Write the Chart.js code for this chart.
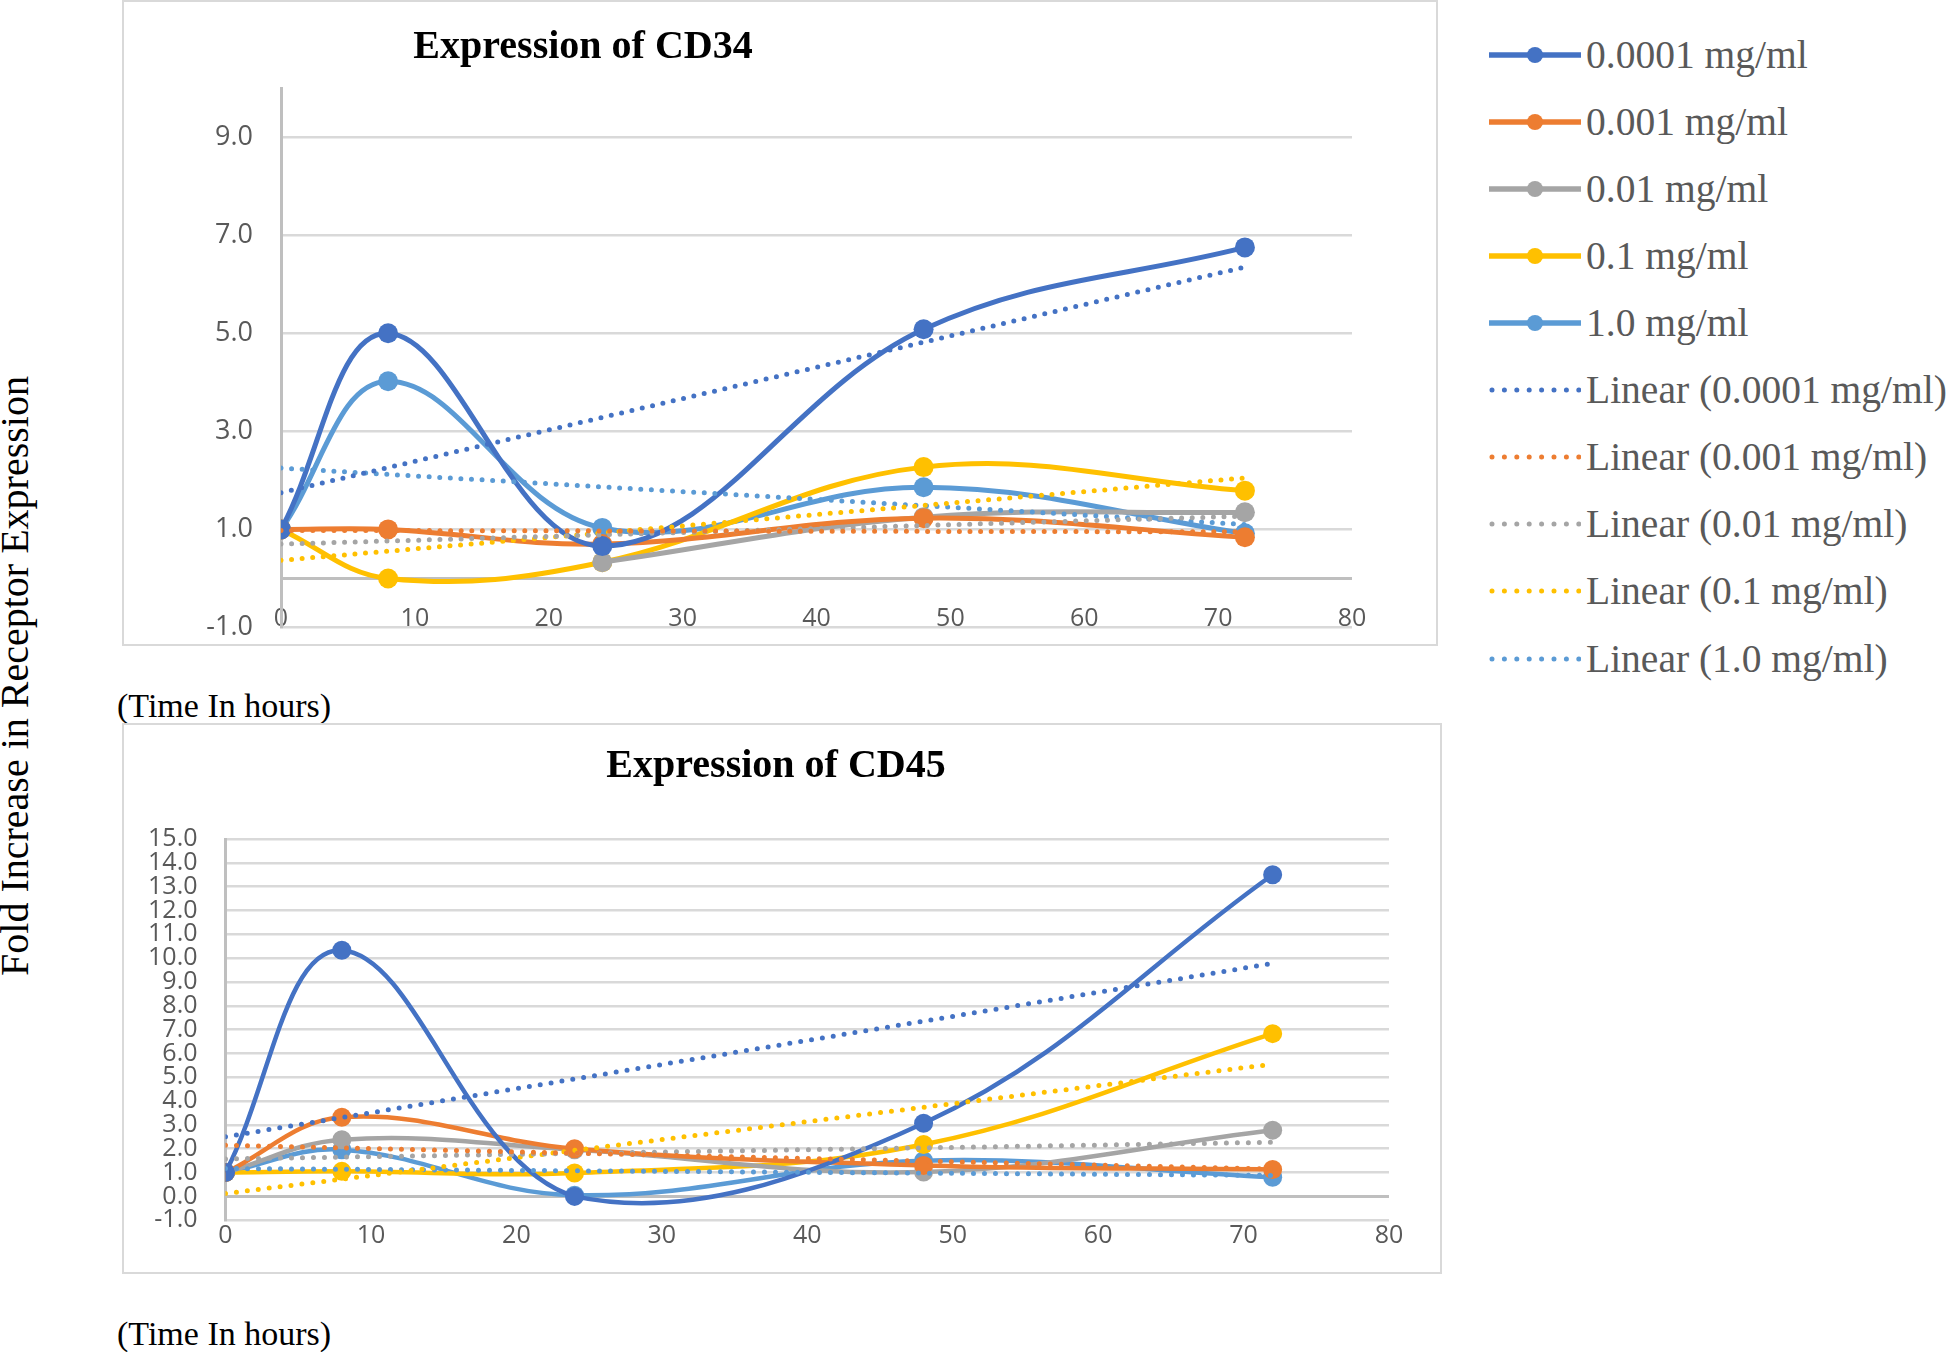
<!DOCTYPE html>
<html>
<head>
<meta charset="utf-8">
<title>Expression of CD34 and CD45</title>
<script src="https://cdn.jsdelivr.net/npm/chart.js@4.4.0/dist/chart.umd.min.js"></script>
<style>
    html, body { margin: 0; padding: 0; background: #fff; }
    #page { position: relative; width: 1946px; height: 1352px; overflow: hidden; background: #fff; }
    .box { position: absolute; border: 2px solid #d9d9d9; box-sizing: border-box; }
    .plot { position: absolute; }
    .title { position: absolute; font: bold 40px "Liberation Serif", "Times New Roman", serif; line-height: 40px; color: #000; white-space: nowrap; transform: translateX(-50%); }
    .xname { position: absolute; left: 117px; font: 34px "Liberation Serif", "Times New Roman", serif; line-height: 34px; color: #000; white-space: nowrap; }
    #ytitle { position: absolute; left: 15px; top: 676px; font: 40px "Liberation Serif", "Times New Roman", serif; line-height: 40px; color: #000; white-space: nowrap; transform: translate(-50%, -50%) rotate(-90deg); }
    #legend { position: absolute; left: 1489px; top: 0; }
    .item { position: absolute; left: 0; height: 50px; display: flex; align-items: center; white-space: nowrap; }
    .item span { font: 39.5px "Liberation Serif", "Times New Roman", serif; color: #595959; margin-left: 5px; }
</style>
</head>
<body>
<div id="page">
    <div class="box" style="left:122px; top:0px; width:1316px; height:646px;"></div>
    <canvas id="cd34Chart" class="plot" width="1316" height="646" style="left:122px; top:0px;"></canvas>
    <div class="title" style="left:583px; top:25px;">Expression of CD34</div>
    <div class="xname" style="top:689px;">(Time In hours)</div>

    <div class="box" style="left:122px; top:723px; width:1320px; height:551px;"></div>
    <canvas id="cd45Chart" class="plot" width="1320" height="551" style="left:122px; top:723px;"></canvas>
    <div class="title" style="left:776px; top:744px;">Expression of CD45</div>
    <div class="xname" style="top:1317px;">(Time In hours)</div>

    <div id="ytitle">Fold Increase in Receptor Expression</div>
    <div id="legend"></div>
</div>

<script>
// Sampling times (hours)
const hours = [0, 8, 24, 48, 72];
const trendHours = [0, 72];

const seriesNames = ['0.0001 mg/ml', '0.001 mg/ml', '0.01 mg/ml', '0.1 mg/ml', '1.0 mg/ml'];
const seriesColors = ['#4472c4', '#ed7d31', '#a5a5a5', '#ffc000', '#5b9bd5'];

// CD34 fold increase
const cd34_00001 = [1.0, 5.0, 0.66, 5.08, 6.75];
const cd34_0001 = [1.0, 1.0, 0.70, 1.23, 0.84];
const cd34_001 = [1.0, null, 0.33, 1.25, 1.35];
const cd34_01 = [1.0, 0.0, 0.33, 2.27, 1.79];
const cd34_10 = [1.0, 4.02, 1.03, 1.86, 0.92];

// CD34 linear trendlines (value at 0 h and 72 h)
const cd34Trend_00001 = [1.75, 6.35];
const cd34Trend_0001 = [0.98, 0.95];
const cd34Trend_001 = [0.70, 1.27];
const cd34Trend_01 = [0.37, 2.05];
const cd34Trend_10 = [2.25, 1.10];

// CD45 fold increase
const cd45_00001 = [1.0, 10.33, 0.0, 3.07, 13.5];
const cd45_0001 = [1.0, 3.32, 2.0, 1.30, 1.13];
const cd45_001 = [1.0, 2.38, 1.96, 1.02, 2.78];
const cd45_01 = [1.0, 1.05, 0.98, 2.18, 6.83];
const cd45_10 = [1.0, 1.96, 0.05, 1.50, 0.80];

// CD45 linear trendlines (value at 0 h and 72 h)
const cd45Trend_00001 = [2.50, 9.78];
const cd45Trend_0001 = [2.15, 1.15];
const cd45Trend_001 = [1.57, 2.27];
const cd45Trend_01 = [0.12, 5.55];
const cd45Trend_10 = [1.17, 0.88];

// Axis ticks
const xTicks = [0, 10, 20, 30, 40, 50, 60, 70, 80];
const cd34YTicks = [-1, 1, 3, 5, 7, 9];
const cd45YTicks = [-1, 0, 1, 2, 3, 4, 5, 6, 7, 8, 9, 10, 11, 12, 13, 14, 15];

document.addEventListener('DOMContentLoaded', function() {
    buildLegend();

    // CD34: the hour labels sit just above the bottom gridline
    makeChart('cd34Chart', {
        series: [cd34_00001, cd34_0001, cd34_001, cd34_01, cd34_10],
        trends: [cd34Trend_00001, cd34Trend_0001, cd34Trend_001, cd34Trend_01, cd34Trend_10],
        yMin: -1, yMax: 10, yTicks: cd34YTicks,
        padding: { left: 0, right: 86, top: 88, bottom: 18.5 },
        yWidth: 159, xHeight: 0, xPosition: { y: -1 },
        yFont: 27, xFont: 25, xPad: -24,
        lineWidth: 5, pointRadius: 10, dash: [0, 10.6]
    });

    makeChart('cd45Chart', {
        series: [cd45_00001, cd45_0001, cd45_001, cd45_01, cd45_10],
        trends: [cd45Trend_00001, cd45Trend_0001, cd45Trend_001, cd45Trend_01, cd45Trend_10],
        yMin: -1, yMax: 15, yTicks: cd45YTicks,
        padding: { left: 0, right: 53, top: 116, bottom: 0 },
        yWidth: 103.5, xHeight: 53.8, xPosition: 'bottom',
        yFont: 25, xFont: 25, xPad: 1,
        lineWidth: 4.5, pointRadius: 9.5, dash: [0, 11]
    });
});

function makeChart(canvasId, cfg) {
    const datasets = [];

    cfg.series.forEach(function(values, i) {
        datasets.push({
            label: seriesNames[i],
            data: hours.map((h, j) => ({ x: h, y: values[j] })),
            borderColor: seriesColors[i],
            backgroundColor: seriesColors[i],
            borderWidth: cfg.lineWidth,
            pointRadius: cfg.pointRadius,
            pointHoverRadius: cfg.pointRadius,
            pointBorderWidth: 0,
            tension: 0.38,
            spanGaps: false,
            order: 1
        });
    });

    cfg.trends.forEach(function(ends, i) {
        datasets.push({
            label: 'Linear (' + seriesNames[i] + ')',
            data: trendHours.map((h, j) => ({ x: h, y: ends[j] })),
            borderColor: seriesColors[i],
            borderWidth: 5,
            borderDash: cfg.dash,
            borderCapStyle: 'round',
            pointRadius: 0,
            tension: 0,
            order: 0
        });
    });

    // zero line is drawn darker, like an axis
    const gridValues = cfg.yTicks.includes(0) ? cfg.yTicks : cfg.yTicks.concat([0]);

    new Chart(document.getElementById(canvasId), {
        type: 'line',
        data: { datasets: datasets },
        options: {
            responsive: false,
            animation: false,
            events: [],
            layout: { padding: cfg.padding },
            plugins: {
                legend: { display: false },
                tooltip: { enabled: false }
            },
            scales: {
                x: {
                    type: 'linear',
                    position: cfg.xPosition,
                    min: xTicks[0],
                    max: xTicks[xTicks.length - 1],
                    afterBuildTicks: function(scale) {
                        scale.ticks = xTicks.map(v => ({ value: v }));
                    },
                    afterFit: function(scale) {
                        scale.height = cfg.xHeight;
                        scale.paddingLeft = 0;
                        scale.paddingRight = 0;
                    },
                    grid: { display: false, drawTicks: false },
                    border: { display: false },
                    ticks: {
                        padding: cfg.xPad,
                        maxRotation: 0,
                        autoSkip: false,
                        color: '#595959',
                        font: { family: '"Open Sans", sans-serif', size: cfg.xFont }
                    }
                },
                y: {
                    min: cfg.yMin,
                    max: cfg.yMax,
                    afterBuildTicks: function(scale) {
                        scale.ticks = gridValues.slice().sort((a, b) => a - b).map(v => ({ value: v }));
                    },
                    afterFit: function(scale) {
                        scale.width = cfg.yWidth;
                        scale.paddingTop = 0;
                        scale.paddingBottom = 0;
                    },
                    grid: {
                        drawTicks: false,
                        color: ctx => (ctx.tick && ctx.tick.value === 0) ? '#bfbfbf' : '#d9d9d9',
                        lineWidth: ctx => (ctx.tick && ctx.tick.value === 0) ? 3 : 2.5
                    },
                    border: { display: true, color: '#bfbfbf', width: 3 },
                    ticks: {
                        padding: 28,
                        autoSkip: false,
                        color: '#595959',
                        font: { family: '"Open Sans", sans-serif', size: cfg.yFont },
                        callback: v => cfg.yTicks.includes(v) ? v.toFixed(1) : ''
                    }
                }
            }
        }
    });
}

function buildLegend() {
    const legend = document.getElementById('legend');
    const rowTop = 54.6;
    const rowStep = 67.1;
    let html = '';

    seriesNames.forEach(function(name, i) {
        const c = seriesColors[i];
        html += '<div class="item" style="top:' + (rowTop + i * rowStep - 25) + 'px">' +
            '<svg width="92" height="20"><line x1="0" y1="10" x2="92" y2="10" stroke="' + c + '" stroke-width="5.5"/>' +
            '<circle cx="46" cy="10" r="8" fill="' + c + '"/></svg><span>' + name + '</span></div>';
    });
    seriesNames.forEach(function(name, i) {
        const c = seriesColors[i];
        const row = i + seriesNames.length;
        html += '<div class="item" style="top:' + (rowTop + row * rowStep - 25) + 'px">' +
            '<svg width="92" height="20"><line x1="3" y1="10" x2="90" y2="10" stroke="' + c + '" stroke-width="5" ' +
            'stroke-linecap="round" stroke-dasharray="0 12.4"/></svg><span>Linear (' + name + ')</span></div>';
    });

    legend.innerHTML = html;
}
</script>
</body>
</html>
